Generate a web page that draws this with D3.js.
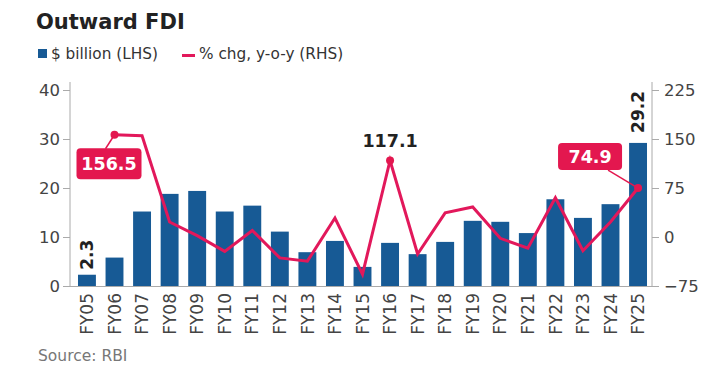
<!DOCTYPE html>
<html><head><meta charset="utf-8">
<script src="https://cdn.jsdelivr.net/npm/d3@7"></script>
<style>
html,body{margin:0;padding:0;background:#fff;}
svg{display:block;font-family:"DejaVu Sans",sans-serif;}
</style></head>
<body>
<svg id="chart" width="711" height="367"></svg>
<script>
const categories = ["FY05","FY06","FY07","FY08","FY09","FY10","FY11","FY12","FY13","FY14","FY15","FY16","FY17","FY18","FY19","FY20","FY21","FY22","FY23","FY24","FY25"];
const billions = [2.3,5.8,15.2,18.8,19.4,15.2,16.4,11.1,6.9,9.2,3.9,8.8,6.5,9.0,13.3,13.1,10.8,17.7,13.9,16.7,29.2];
const pctChange = [null,156.5,155,23,2,-22,10,-32,-37,29,-57,117.1,-26,37,46,-2,-17,60,-21,23,74.9];
const leftTicks = [0,10,20,30,40];
const rightTicks = [-75,0,75,150,225];

const BLUE = "#175a95", PINK = "#e2185b", BOX = "#e3174f";
const svg = d3.select("#chart");

const x = d3.scaleBand().domain(categories).range([70,655]).paddingInner(0.35).paddingOuter(0.29);
const yL = d3.scaleLinear().domain([0,40]).range([286,90]);
const yR = d3.scaleLinear().domain([-75,225]).range([286,90]);
const cx = c => x(c) + x.bandwidth()/2;

// title & legend
svg.append("text").attr("x",36).attr("y",29).attr("font-size",21).attr("font-weight","bold").attr("fill","#222").text("Outward FDI");
svg.append("rect").attr("x",38).attr("y",49).attr("width",9).attr("height",9).attr("fill",BLUE);
svg.append("text").attr("x",51).attr("y",59).attr("font-size",15.3).attr("fill","#333").text("$ billion (LHS)");
svg.append("line").attr("x1",182).attr("x2",195).attr("y1",55.5).attr("y2",55.5).attr("stroke",PINK).attr("stroke-width",3);
svg.append("text").attr("x",199).attr("y",59).attr("font-size",15.3).attr("fill","#333").text("% chg, y-o-y (RHS)");

// axes
const axL = svg.append("g").attr("transform","translate(70,0)")
  .call(d3.axisLeft(yL).tickValues(leftTicks).tickSize(7).tickSizeOuter(0).tickPadding(3));
const axR = svg.append("g").attr("transform","translate(652,0)")
  .call(d3.axisRight(yR).tickValues(rightTicks).tickSize(7).tickSizeOuter(0).tickPadding(5));
[axL,axR].forEach(a=>{
  a.select(".domain").attr("stroke","#aaa").attr("d","M0,82V286");
  a.selectAll(".tick line").attr("stroke","#aaa");
  a.selectAll(".tick text").attr("font-size",16.5).attr("fill","#444").attr("font-family","DejaVu Sans");
});
svg.append("line").attr("x1",70).attr("x2",652).attr("y1",286.5).attr("y2",286.5).attr("stroke","#aaa");

// bars
svg.append("g").selectAll("rect").data(categories).join("rect")
  .attr("x",d=>x(d)).attr("width",x.bandwidth())
  .attr("y",(d,i)=>yL(billions[i])).attr("height",(d,i)=>yL(0)-yL(billions[i]))
  .attr("fill",BLUE);

// x labels
const xAx = svg.append("g").attr("transform","translate(0,286)")
  .call(d3.axisBottom(x).tickSize(0).tickPadding(0));
xAx.select(".domain").remove();
xAx.selectAll(".tick text").attr("font-size",17).attr("fill","#444").attr("font-family","DejaVu Sans")
  .attr("transform","rotate(-90)").attr("text-anchor","end").attr("x",-7).attr("y",0).attr("dy","0.36em");

// line
const pts = categories.map((c,i)=>({c,v:pctChange[i]})).filter(d=>d.v!==null);
svg.append("path").datum(pts)
  .attr("d",d3.line().x(d=>cx(d.c)).y(d=>yR(d.v)))
  .attr("fill","none").attr("stroke",PINK).attr("stroke-width",3).attr("stroke-linejoin","miter");

// bar value labels (rotated)
[["FY05",2.3,5],["FY25",29.2,10]].forEach(([c,v,g])=>{
  svg.append("text").attr("transform",`translate(${cx(c)},${yL(v)-g}) rotate(-90)`)
    .attr("dy","0.36em").attr("font-size",17).attr("font-weight","bold").attr("fill","#222").text(v.toFixed(1));
});

// annotation: 156.5
function boxLabel(c, v, bx, by, bw, bh, ax, ay){
  const px = cx(c), py = yR(v);
  svg.append("line").attr("x1",px).attr("y1",py).attr("x2",px+ax).attr("y2",py+ay).attr("stroke",BOX).attr("stroke-width",1.5);
  svg.append("rect").attr("x",px+bx).attr("y",py+by).attr("width",bw).attr("height",bh).attr("rx",4).attr("fill",BOX);
  svg.append("text").attr("x",px+bx+bw/2).attr("y",py+by+bh/2).attr("dy","0.36em").attr("text-anchor","middle")
    .attr("font-size",17.5).attr("font-weight","bold").attr("fill","#fff").text(v.toFixed(1));
  svg.append("circle").attr("cx",px).attr("cy",py).attr("r",4).attr("fill",BOX);
}
boxLabel("FY06",156.5,-38,13.5,65,31,-9,14);
boxLabel("FY25",74.9,-80,-45,64,27,-30,-18);

// 117.1
{
  const px = cx("FY16"), py = yR(117.1);
  svg.append("circle").attr("cx",px).attr("cy",py).attr("r",4).attr("fill",BOX);
  svg.append("text").attr("x",px).attr("y",py-13).attr("text-anchor","middle").attr("font-size",17.5)
    .attr("font-weight","bold").attr("fill","#222").text("117.1");
}

// source
svg.append("text").attr("x",38).attr("y",361).attr("font-size",15.5).attr("fill","#777").text("Source: RBI");
</script>
</body></html>
